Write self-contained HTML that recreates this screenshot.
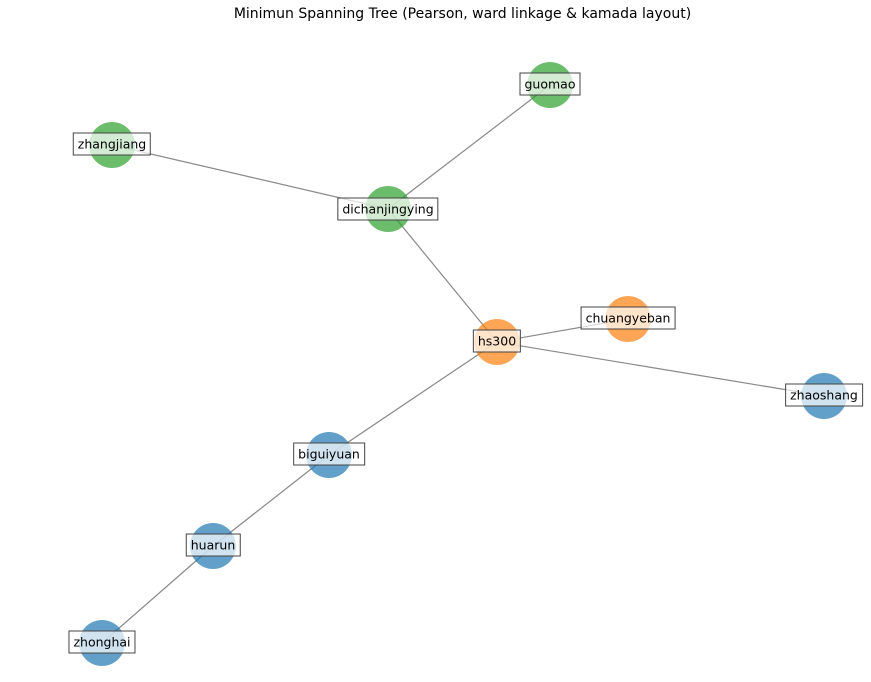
<!DOCTYPE html>
<html><head><meta charset="utf-8"><style>
body{margin:0;background:#fff;}
#c{position:relative;width:871px;height:682px;overflow:hidden;font-family:"DejaVu Sans","Liberation Sans",sans-serif;}
.t{position:absolute;left:0;top:6px;width:925px;text-align:center;font-size:14px;color:#000;}
.l{position:absolute;transform:translate(-50%,-50%);background:rgba(255,255,255,0.7);border:1px solid #444;font-size:12.5px;padding:3px 4px;white-space:nowrap;line-height:15px;color:#000;}
</style></head><body><div id="c">
<div class="t">Minimun Spanning Tree (Pearson, ward linkage &amp; kamada layout)</div>
<svg width="871" height="682" style="position:absolute;left:0;top:0">
<g stroke="#888" stroke-width="1.2">
<line x1="112" y1="145" x2="388" y2="209"/>
<line x1="550" y1="85" x2="388" y2="209"/>
<line x1="388" y1="209" x2="497" y2="342"/>
<line x1="497" y1="342" x2="628" y2="319"/>
<line x1="497" y1="342" x2="824" y2="396"/>
<line x1="497" y1="342" x2="329" y2="455"/>
<line x1="329" y1="455" x2="213" y2="546"/>
<line x1="213" y1="546" x2="102" y2="643"/>
</g>
<g fill-opacity="0.7">
<circle cx="550" cy="85" r="23" fill="#2ca02c"/>
<circle cx="112" cy="145" r="23" fill="#2ca02c"/>
<circle cx="388" cy="209" r="23" fill="#2ca02c"/>
<circle cx="628" cy="319" r="23" fill="#ff7f0e"/>
<circle cx="497" cy="342" r="23" fill="#ff7f0e"/>
<circle cx="824" cy="396" r="23" fill="#1f77b4"/>
<circle cx="329" cy="455" r="23" fill="#1f77b4"/>
<circle cx="213" cy="546" r="23" fill="#1f77b4"/>
<circle cx="102" cy="643" r="23" fill="#1f77b4"/>
</g>
</svg>
<div class="l" style="left:550px;top:84px">guomao</div>
<div class="l" style="left:112px;top:144px">zhangjiang</div>
<div class="l" style="left:388px;top:209px">dichanjingying</div>
<div class="l" style="left:628px;top:318px">chuangyeban</div>
<div class="l" style="left:497px;top:341px">hs300</div>
<div class="l" style="left:824px;top:395px">zhaoshang</div>
<div class="l" style="left:329px;top:454px">biguiyuan</div>
<div class="l" style="left:213px;top:545px">huarun</div>
<div class="l" style="left:102px;top:642px">zhonghai</div>
</div></body></html>
